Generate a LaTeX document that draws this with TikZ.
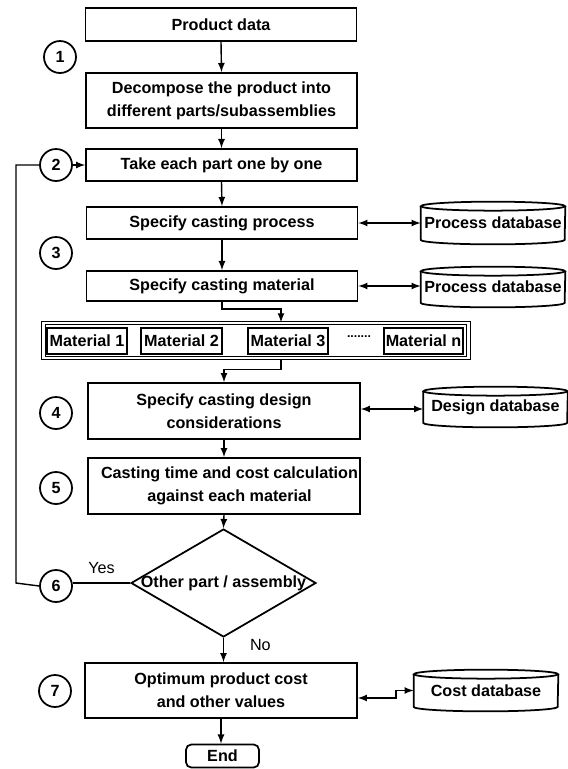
\documentclass[tikz,border=0pt]{standalone}
\usepackage{fontspec}
\setmainfont{Liberation Sans}
\usetikzlibrary{arrows,shapes.geometric}

\begin{document}
\begin{tikzpicture}[x=0.02cm,y=-0.02cm,
  font=\fontsize{9.2}{13}\selectfont\bfseries,
  box/.style={draw,line width=1pt,align=center,inner sep=0pt,minimum width=5.42cm},
  num/.style={draw,circle,line width=1pt,minimum size=0.64cm,inner sep=0pt},
  matbox/.style={draw,line width=1.3pt,minimum height=0.52cm,inner sep=0pt},
  dbase/.style={inner sep=0pt,minimum width=2.88cm},
  arr/.style={-latex,line width=0.8pt},
  link/.style={latex-latex,line width=0.8pt},
  line/.style={line width=0.8pt}]
  \useasboundingbox (0,0) rectangle (568,769);
  %main column
  \node[box,minimum height=0.66cm] (prod) at (221,24.5) {Product data};
  \node[box,minimum height=1.1cm] (decomp) at (221.5,100.5)
   {Decompose the product into\\different parts/subassemblies};
  \node[box,minimum height=0.64cm] (take) at (221.5,165) {Take each part one by one};
  \node[box,minimum height=0.64cm] (proc) at (222,223) {Specify casting process};
  \node[box,minimum height=0.6cm] (mat) at (222,286) {Specify casting material};
  %material choices
  \node[draw,double,double distance=1.2pt,line width=0.7pt,minimum width=8.5cm,
   minimum height=0.7cm,inner sep=0pt] (grp) at (256,340.5) {};
  \node[matbox,minimum width=1.6cm] (m1) at (87,341) {Material 1};
  \node[matbox,minimum width=1.62cm] (m2) at (181.5,341) {Material 2};
  \node[matbox,minimum width=1.6cm] (m3) at (288,341) {Material 3};
  \node (dots) at (359,337) {\scriptsize .......};
  \node[matbox,minimum width=1.58cm] (mn) at (423.5,341) {Material n};
  \node[box,minimum width=5.44cm,minimum height=1.12cm] (design) at (224,411)
   {Specify casting design\\considerations};
  \node[box,minimum width=5.44cm,minimum height=1.12cm] (calc) at (224,486)
   {\hspace{0.22cm}Casting time and cost calculation\\\hspace{0.22cm}against each material};
  \node[draw,diamond,line width=1pt,inner sep=0pt,minimum width=3.7cm,
   minimum height=2.16cm] (dec) at (223.5,583) {\makebox[0pt]{Other part / assembly}};
  \node[box,minimum width=5.44cm,minimum height=1.1cm] (opt) at (221,690.5)
   {Optimum product cost\\and other values};
  \node[draw,rounded corners=3pt,line width=1pt,minimum width=1.46cm,
   minimum height=0.46cm,inner sep=0pt] (end) at (222.5,756) {End};
  %step numbers
  \node[num] (s1) at (60,57) {1};
  \node[num] (s2) at (56,165) {2};
  \node[num] (s3) at (56,253) {3};
  \node[num] (s4) at (56,413) {4};
  \node[num] (s5) at (56,488) {5};
  \node[num] (s6) at (56,586) {6};
  \node[num] (s7) at (55,691) {7};
  %databases
  \node[dbase,minimum height=0.84cm] (pdb1) at (493,223) {Process database};
  \node[dbase,minimum height=0.8cm] (pdb2) at (493,287) {Process database};
  \node[dbase,minimum height=0.8cm] (ddb) at (495.5,407) {Design database};
  \node[dbase,minimum height=0.82cm] (cdb) at (486,690.5) {Cost database};
  \foreach \d in {pdb1,pdb2,ddb,cdb}{
    \draw[line width=1pt] ([yshift=-0.09cm]\d.north west) -- ([yshift=0.09cm]\d.south west)
      arc[start angle=180,end angle=360,x radius=1.44cm,y radius=0.09cm]
      -- ([yshift=-0.09cm]\d.north east);
    \draw[line width=1pt] ([yshift=-0.09cm]\d.north) ellipse [x radius=1.44cm,y radius=0.09cm];
  }
  %flow
  \draw[arr] (prod.south) -- (decomp.north);
  \draw[arr] (decomp.south) -- (take.north);
  \draw[arr] (take.south) -- (proc.north);
  \draw[arr] (proc.south) -- (mat.north);
  \draw[arr] (mat.south) -- ++(0,7) -| ([xshift=-0.14cm]m3.north |- grp.north);
  \draw[arr] ([xshift=-0.14cm]m3.south |- grp.south) -- ++(0,11) -| (design.north);
  \draw[arr] (design.south) -- (calc.north);
  \draw[arr] (calc.south) -- (dec.north);
  \draw[arr] (dec.south) -- (dec.south |- opt.north)
   node [right,pos=0.3,xshift=0.4cm] (no) {\mdseries No};
  \draw[arr] (opt.south) -- (opt.south |- end.north);
  %databases links
  \draw[link] (proc.east) -- (proc.east -| pdb1.west);
  \draw[link] (mat.east) -- (mat.east -| pdb2.west);
  \draw[link] ([yshift=0.04cm]design.east) -- ([yshift=0.04cm]design.east -| ddb.west);
  \draw[link] ([yshift=-0.15cm]opt.east) -- ++(38,0) |- (cdb.west);
  %loop back
  \coordinate (back) at (16,583);
  \draw[line] (dec.west) -- (dec.west -| s6.east)
   node [above,pos=0.5,yshift=0.05cm] (yes) {\mdseries Yes};
  \draw[line] (s6.west) -- (back) |- (s2.west);
  \draw[arr] (s2.east) -- (take.west);
\end{tikzpicture}
\end{document}
